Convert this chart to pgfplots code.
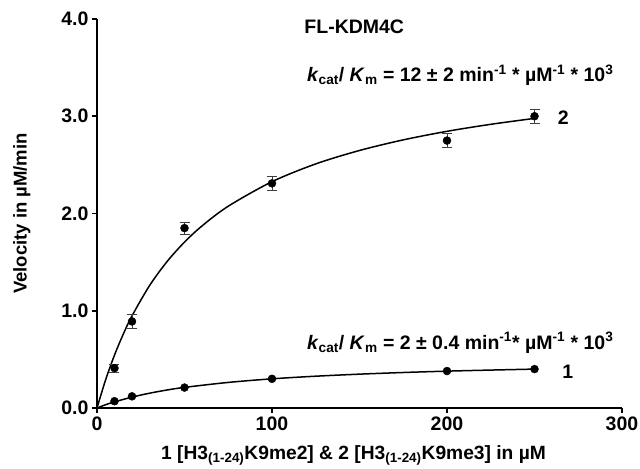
\documentclass[border=0pt]{standalone}
\usepackage{fontspec}
\setmainfont{Liberation Sans}
\usepackage{pgfplots}
\pgfplotsset{compat=1.18}

% measured velocities (uM/min), s.d. where visible
\pgfplotstableread{
x y e
10 0.41 0.04
20 0.89 0.07
50 1.85 0.06
100 2.31 0.07
200 2.75 0.07
250 3.00 0.07
}\metthree
\pgfplotstableread{
x y
10 0.07
20 0.12
50 0.21
100 0.30
200 0.38
250 0.40
}\mettwo

\begin{document}
\begin{tikzpicture}[x=1bp,y=1bp]
\path[use as bounding box] (-97,-61) rectangle (543,408);
\begin{axis}[
  at={(0,0)}, anchor=south west,
  scale only axis,
  width=525bp, height=389bp,
  xmin=0, xmax=300, ymin=0, ymax=4,
  xtick={0,100,200,300},
  ytick={0,1,2,3,4},
  axis lines=left,
  axis line style={line width=1.6bp,-},
  tick style={line width=1.6bp,black},
  tick align=outside,
  major tick length=5bp,
  /pgf/number format/assume math mode=true,
  ticklabel style={font=\fontsize{19.5bp}{21bp}\selectfont\bfseries},
  yticklabel style={/pgf/number format/.cd,fixed,fixed zerofill,precision=1},
  xticklabel style={/pgf/number format/.cd,fixed,precision=0},
  label style={font=\fontsize{18.5bp}{21bp}\selectfont\bfseries},
  xlabel={1 [H3\textsubscript{(1-24)}K9me2] \& 2 [H3\textsubscript{(1-24)}K9me3] in µM},
  ylabel={Velocity in µM/min},
  xlabel style={yshift=-8bp, xshift=-6bp, font=\fontsize{19.2bp}{22bp}\selectfont\bfseries},
  ylabel style={yshift=24bp},
  clip=false,
]
% fitted curves
\addplot[black, line width=1.5bp, smooth] coordinates {
(0,0) (5,0.294) (10,0.544) (15,0.759) (20,0.947) (30,1.258) (40,1.505)
(50,1.706) (60,1.872) (75,2.075) (100,2.327) (125,2.510) (150,2.648)
(175,2.757) (200,2.845) (225,2.917) (250,2.978)};
\addplot[black, line width=1.5bp, smooth] coordinates {
(0,0) (5,0.034) (10,0.063) (20,0.112) (30,0.152) (40,0.185) (50,0.212)
(75,0.263) (100,0.300) (125,0.327) (150,0.348) (175,0.365) (200,0.379)
(225,0.390) (250,0.400)};
% data points
\addplot[only marks, mark=*, mark size=4bp, black,
  error bars/.cd, y dir=both, y explicit,
  error bar style={line width=0.8bp, black!75},
  error mark options={rotate=90, mark size=5bp, line width=0.8bp, black!75}]
  table[x=x, y=y, y error=e] {\metthree};
\addplot[only marks, mark=*, mark size=4bp, black] table[x=x, y=y] {\mettwo};

\node[font=\fontsize{19.5bp}{22bp}\selectfont\bfseries] at (axis cs:147,3.92) {FL-KDM4C};
\node[anchor=west, font=\fontsize{19.5bp}{22bp}\selectfont\bfseries] at (axis cs:118,3.42)
  {\textit{k}\textsubscript{cat}/ \textit{K}\textsubscript{m} = 12 ± 2 min\textsuperscript{-1} * µM\textsuperscript{-1} * 10\textsuperscript{3}};
\node[font=\fontsize{19.5bp}{22bp}\selectfont\bfseries] at (axis cs:266.5,2.99) {2};
\node[anchor=west, font=\fontsize{19.5bp}{22bp}\selectfont\bfseries] at (axis cs:118,0.67)
  {\textit{k}\textsubscript{cat}/ \textit{K}\textsubscript{m} = 2 ± 0.4 min\textsuperscript{-1}* µM\textsuperscript{-1} * 10\textsuperscript{3}};
\node[font=\fontsize{19.5bp}{22bp}\selectfont\bfseries] at (axis cs:269,0.37) {1};
\end{axis}
\end{tikzpicture}
\end{document}
